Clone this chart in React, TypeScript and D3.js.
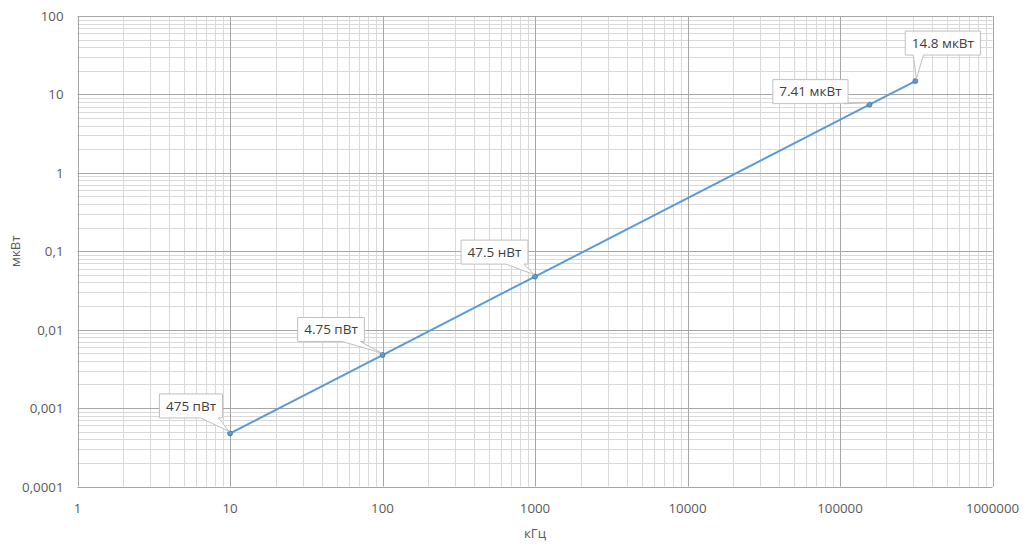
import React, { useEffect, useRef } from "react";
import * as d3 from "d3";

const freqsKHz = [10, 100, 1000, 156000, 312000];
const powerUW = [0.000475, 0.00475, 0.0475, 7.41, 14.8];
const pointLabels = ["475 пВт", "4.75 пВт", "47.5 нВт", "7.41 мкВт", "14.8 мкВт"];
const xTicks = [1, 10, 100, 1000, 10000, 100000, 1000000];
const yTicks = [0.0001, 0.001, 0.01, 0.1, 1, 10, 100];
const yTickLabels = ["0,0001", "0,001", "0,01", "0,1", "1", "10", "100"];
const xTitle = "кГц";
const yTitle = "мкВт";

// label box offsets (box centre relative to point), layout only
const labelOffsets: [number, number][] = [
  [-39, -27.5],
  [-51.5, -25.5],
  [-40.5, -24.5],
  [-59, -13],
  [27.5, -38],
];

const W = 1025, H = 546;
const M = { left: 77.5, right: 1025 - 992.5, top: 16, bottom: 546 - 486.5 };
const FONT = "'Open Sans', 'Liberation Sans', sans-serif";

export default function App() {
  const ref = useRef<SVGSVGElement>(null);
  useEffect(() => {
    const svg = d3.select(ref.current);
    svg.selectAll("*").remove();
    const x = d3.scaleLog().domain([1, 1e6]).range([M.left, W - M.right]);
    const y = d3.scaleLog().domain([1e-4, 100]).range([H - M.bottom, M.top]);

    const g = svg.append("g");
    const minorX: number[] = [];
    for (let e = 0; e < 6; e++) for (let k = 2; k <= 9; k++) minorX.push(k * Math.pow(10, e));
    const minorY: number[] = [];
    for (let e = -4; e < 2; e++) for (let k = 2; k <= 9; k++) minorY.push(k * Math.pow(10, e));
    g.selectAll(".mx").data(minorX).enter().append("line")
      .attr("x1", d => Math.round(x(d)) + 0.5).attr("x2", d => Math.round(x(d)) + 0.5)
      .attr("y1", y(1e-4)).attr("y2", y(100))
      .attr("stroke", "#d9d9d9").attr("stroke-width", 1);
    g.selectAll(".my").data(minorY).enter().append("line")
      .attr("y1", d => Math.round(y(d)) + 0.5).attr("y2", d => Math.round(y(d)) + 0.5)
      .attr("x1", x(1)).attr("x2", x(1e6))
      .attr("stroke", "#d9d9d9").attr("stroke-width", 1);
    g.selectAll(".Mx").data(xTicks).enter().append("line")
      .attr("x1", d => Math.round(x(d)) + 0.5).attr("x2", d => Math.round(x(d)) + 0.5)
      .attr("y1", y(1e-4)).attr("y2", y(100))
      .attr("stroke", "#a6a6a6").attr("stroke-width", 1);
    g.selectAll(".My").data(yTicks).enter().append("line")
      .attr("y1", d => Math.round(y(d)) + 0.5).attr("y2", d => Math.round(y(d)) + 0.5)
      .attr("x1", x(1)).attr("x2", x(1e6))
      .attr("stroke", "#a6a6a6").attr("stroke-width", 1);

    svg.append("g").selectAll("text").data(xTicks).enter().append("text")
      .attr("x", d => x(d)).attr("y", H - M.bottom + 26)
      .attr("text-anchor", "middle").attr("font-family", FONT).attr("font-size", 13.3)
      .attr("fill", "#595959").text(d => String(d));
    svg.append("g").selectAll("text").data(yTicks).enter().append("text")
      .attr("x", M.left - 14).attr("y", d => y(d) + 5)
      .attr("text-anchor", "end").attr("font-family", FONT).attr("font-size", 13.3)
      .attr("fill", "#595959").text((d, i) => yTickLabels[i]);

    svg.append("text").attr("x", (x(1) + x(1e6)) / 2).attr("y", 538)
      .attr("text-anchor", "middle").attr("font-family", FONT).attr("font-size", 13.3)
      .attr("fill", "#595959").text(xTitle);
    svg.append("text").attr("transform", `translate(20,${(y(1e-4) + y(100)) / 2}) rotate(-90)`)
      .attr("text-anchor", "middle").attr("font-family", FONT).attr("font-size", 13.3)
      .attr("fill", "#595959").text(yTitle);

    const pts = freqsKHz.map((f, i) => [x(f), y(powerUW[i])] as [number, number]);
    svg.append("path").attr("d", d3.line()(pts)!).attr("fill", "none")
      .attr("stroke", "#5b9bd5").attr("stroke-width", 2);
    svg.append("g").selectAll("circle").data(pts).enter().append("circle")
      .attr("cx", d => d[0]).attr("cy", d => d[1]).attr("r", 2.5)
      .attr("fill", "#5b9bd5").attr("stroke", "#41719c").attr("stroke-width", 0.75);

    const lg = svg.append("g");
    pts.forEach((p, i) => {
      const [dx, dy] = labelOffsets[i];
      const t = lg.append("text").attr("font-family", FONT).attr("font-size", 13.5)
        .attr("fill", "#404040").attr("text-anchor", "middle")
        .attr("x", p[0] + dx).attr("y", p[1] + dy + 4.8).text(pointLabels[i]);
      const tw = (t.node() as SVGTextElement).getComputedTextLength();
      const bw = tw + 13, bh = 24;
      const cx = p[0] + dx, cy = p[1] + dy;
      const l = cx - bw / 2, r = cx + bw / 2, tp = cy - bh / 2, bt = cy + bh / 2;
      let b1: number, b2: number;
      if (p[0] > r) { b1 = r - 22; b2 = r - 4; }
      else if (p[0] < l) { b1 = l + 4; b2 = l + 22; }
      else { b1 = Math.max(l + 2, p[0] - 2); b2 = Math.min(r - 2, p[0] + 8); }
      const path = `M${l},${tp}H${r}V${bt}H${b2}L${p[0] + (p[0] > cx ? -1 : 1)},${p[1] - 2}L${b1},${bt}H${l}Z`;
      lg.insert("path", "text").attr("d", path).attr("fill", "#ffffff")
        .attr("stroke", "#bfbfbf").attr("stroke-width", 1);
    });
  }, []);
  return (
    <svg ref={ref} width={W} height={H}
      style={{ position: "absolute", left: 0, top: 0, background: "#fff" }} />
  );
}
